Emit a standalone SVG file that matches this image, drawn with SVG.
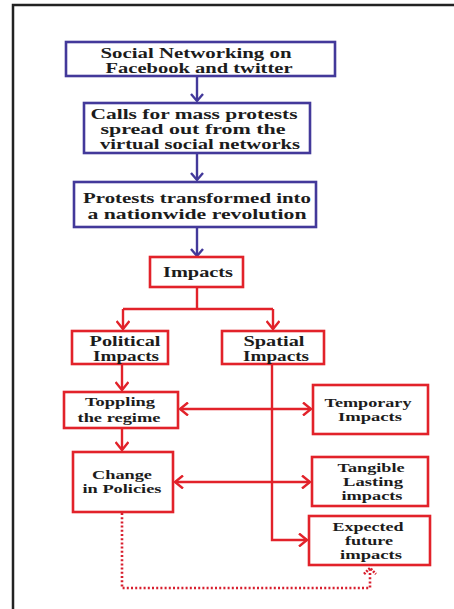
<svg xmlns="http://www.w3.org/2000/svg" width="454" height="609" viewBox="0 0 454 609">
<style>
.bb{fill:#fff;stroke:#43399a;stroke-width:2.6}
.rb{fill:#fff;stroke:#e2222a;stroke-width:2.6}
text{font-family:"Liberation Serif","Times New Roman",serif;font-weight:bold;fill:#1c1c1c;text-anchor:middle}
.t13{font-size:14px}
.t12{font-size:13px}
.t11{font-size:12px}
.bl{fill:none;stroke:#43399a;stroke-width:2.4}
.rl{fill:none;stroke:#e2222a;stroke-width:2.4}
.dot{fill:none;stroke:#d81f2e;stroke-width:2.6;stroke-dasharray:2 2.2}
</style>
<defs>
<marker id="ab" markerUnits="userSpaceOnUse" markerWidth="14" markerHeight="14" viewBox="-10 -7 12 14" refX="0" refY="0" orient="auto-start-reverse">
<path d="M-7,-6 L0,0 L-7,6" fill="none" stroke="#43399a" stroke-width="2.4"/>
</marker>
<marker id="ar" markerUnits="userSpaceOnUse" markerWidth="14" markerHeight="14" viewBox="-10 -7 12 14" refX="0" refY="0" orient="auto-start-reverse">
<path d="M-8,-6.5 L0,0 L-8,6.5" fill="none" stroke="#e2222a" stroke-width="2.4"/>
</marker>
<marker id="ard" markerUnits="userSpaceOnUse" markerWidth="14" markerHeight="14" viewBox="-10 -7 12 14" refX="0" refY="0" orient="auto">
<path d="M-6,-6 L0,0 L-6,6" fill="none" stroke="#d81f2e" stroke-width="2.6" stroke-dasharray="2 1.2"/>
</marker>
</defs>
<rect width="454" height="609" fill="#fff"/>
<path d="M13,609 V5 H454" fill="none" stroke="#222" stroke-width="2.5"/>

<g id="connectors">
<path class="bl" d="M197,76 V101" marker-end="url(#ab)"/>
<path class="bl" d="M197,153 V180" marker-end="url(#ab)"/>
<path class="bl" d="M197,227 V256" marker-end="url(#ab)"/>
<path class="rl" d="M197,287 V309 M123,309 H273"/>
<path class="rl" d="M123,309 V329" marker-end="url(#ar)"/>
<path class="rl" d="M273,309 V329" marker-end="url(#ar)"/>
<path class="rl" d="M122,364 V390" marker-end="url(#ar)"/>
<path class="rl" d="M180,409 H311" marker-start="url(#ar)" marker-end="url(#ar)"/>
<path class="rl" d="M122,428 V450" marker-end="url(#ar)"/>
<path class="rl" d="M175,482 H310" marker-start="url(#ar)" marker-end="url(#ar)"/>
<path class="rl" d="M272,364 V540 H307" marker-end="url(#ar)"/>
<path class="dot" d="M122,513 V588 H370 V568" marker-end="url(#ard)"/>
</g>

<g id="n1"><rect class="bb" x="66" y="42" width="269" height="34"/>
<text class="t13" x="196" y="58" textLength="191" lengthAdjust="spacingAndGlyphs">Social Networking on</text>
<text class="t13" x="199" y="73" textLength="187" lengthAdjust="spacingAndGlyphs">Facebook and twitter</text></g>

<g id="n2"><rect class="bb" x="84" y="103" width="226" height="50"/>
<text class="t13" x="194" y="119" textLength="207" lengthAdjust="spacingAndGlyphs">Calls for mass protests</text>
<text class="t13" x="193" y="134" textLength="185" lengthAdjust="spacingAndGlyphs">spread out from the</text>
<text class="t13" x="200" y="149" textLength="200" lengthAdjust="spacingAndGlyphs">virtual social networks</text></g>

<g id="n3"><rect class="bb" x="74" y="182" width="242" height="45"/>
<text class="t13" x="197" y="203" textLength="228" lengthAdjust="spacingAndGlyphs">Protests transformed into</text>
<text class="t13" x="197" y="219" textLength="219" lengthAdjust="spacingAndGlyphs">a nationwide revolution</text></g>

<g id="impacts"><rect class="rb" x="150" y="257" width="93" height="30"/>
<text class="t13" x="198" y="277" textLength="70" lengthAdjust="spacingAndGlyphs">Impacts</text></g>

<g id="political"><rect class="rb" x="72" y="331" width="96" height="33"/>
<text class="t13" x="125" y="346" textLength="71" lengthAdjust="spacingAndGlyphs">Political</text>
<text class="t13" x="126" y="361" textLength="66" lengthAdjust="spacingAndGlyphs">Impacts</text></g>

<g id="spatial"><rect class="rb" x="222" y="331" width="102" height="33"/>
<text class="t13" x="274" y="346" textLength="61" lengthAdjust="spacingAndGlyphs">Spatial</text>
<text class="t13" x="276" y="361" textLength="66" lengthAdjust="spacingAndGlyphs">Impacts</text></g>

<g id="toppling"><rect class="rb" x="64" y="392" width="114" height="36"/>
<text class="t11" x="120" y="406" textLength="70" lengthAdjust="spacingAndGlyphs">Toppling</text>
<text class="t11" x="119" y="421.5" textLength="83" lengthAdjust="spacingAndGlyphs">the regime</text></g>

<g id="temporary"><rect class="rb" x="313" y="385" width="115" height="49"/>
<text class="t12" x="368" y="407" textLength="87" lengthAdjust="spacingAndGlyphs">Temporary</text>
<text class="t12" x="370" y="421" textLength="64" lengthAdjust="spacingAndGlyphs">Impacts</text></g>

<g id="change"><rect class="rb" x="73" y="452" width="100" height="60"/>
<text class="t12" x="122" y="479" textLength="60" lengthAdjust="spacingAndGlyphs">Change</text>
<text class="t12" x="122" y="493" textLength="79" lengthAdjust="spacingAndGlyphs">in Policies</text></g>

<g id="tangible"><rect class="rb" x="312" y="457" width="116" height="49"/>
<text class="t12" x="371" y="472" textLength="67" lengthAdjust="spacingAndGlyphs">Tangible</text>
<text class="t12" x="373" y="486" textLength="60" lengthAdjust="spacingAndGlyphs">Lasting</text>
<text class="t12" x="372" y="500" textLength="61" lengthAdjust="spacingAndGlyphs">impacts</text></g>

<g id="expected"><rect class="rb" x="309" y="516" width="121" height="49"/>
<text class="t12" x="368" y="531" textLength="71" lengthAdjust="spacingAndGlyphs">Expected</text>
<text class="t12" x="369" y="545" textLength="48" lengthAdjust="spacingAndGlyphs">future</text>
<text class="t12" x="371" y="559" textLength="62" lengthAdjust="spacingAndGlyphs">impacts</text></g>
</svg>
